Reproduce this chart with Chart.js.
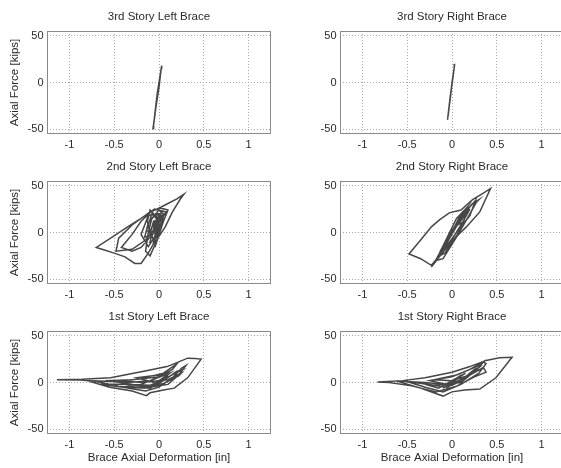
<!DOCTYPE html>
<html><head><meta charset="utf-8">
<script src="https://cdn.jsdelivr.net/npm/chart.js@4"></script>
<style>
html,body{margin:0;padding:0;width:561px;height:468px;overflow:hidden;background:#fff;}
body{position:relative;}
canvas{position:absolute;}
</style></head><body>
<script>
// ---------- DATA ----------
const xTickValues = [-1, -0.5, 0, 0.5, 1];
const yTickValues = [-50, 0, 50];
const panelTitles = ["3rd Story Left Brace","3rd Story Right Brace","2nd Story Left Brace","2nd Story Right Brace","1st Story Left Brace","1st Story Right Brace"];
const yAxisTitle = "Axial Force [kips]";
const xAxisTitle = "Brace Axial Deformation [in]";

const story3Left = [[-0.068,-50],[-0.04,-30],[0.0,-5],[0.025,15],[0.03,18],[0.02,12],[-0.02,-15],[-0.05,-38],[-0.066,-49],[-0.06,-45],[-0.02,-12],[0.028,17]];
const story3Right = [[-0.05,-40],[-0.02,-15],[0.01,5],[0.03,20],[0.025,16],[0.0,-2],[-0.03,-25],[-0.048,-38],[-0.04,-33],[0.0,0],[0.028,18]];
const story2Left = [[0,0],[0.04,10],[-0.03,-6],[0.06,16],[-0.06,-10],[0.0,18],[-0.1,2],[-0.04,-14],[0.05,12],[0.1,24],[0.02,26],[-0.1,22],[-0.3,8],[-0.45,-6],[-0.48,-20],[-0.3,-18],[-0.15,-8],[0.0,10],[0.08,22],[-0.05,25],[-0.2,15],[-0.35,6],[-0.54,-6],[-0.70,-16],[-0.6,-19],[-0.5,-22],[-0.38,-26],[-0.27,-33],[-0.2,-33],[-0.12,-22],[-0.06,-12],[0.0,-4],[0.07,6],[0.15,22],[0.24,36],[0.28,41],[0.2,36],[0.1,31],[0.02,27],[-0.09,22],[-0.2,12],[-0.3,-2],[-0.42,-16],[-0.3,-20],[-0.2,-16],[-0.1,-5],[-0.02,10],[0.05,20],[0,24],[-0.08,15],[-0.12,0],[-0.15,-20],[-0.1,-25],[-0.04,-12],[0.02,5],[-0.05,18],[-0.12,10],[-0.16,-5],[-0.08,-2],[0,15],[0.03,22],[-0.05,8],[-0.1,-10],[-0.05,-8],[0.02,18],[-0.08,20],[-0.14,2],[-0.06,0],[-0.02,16],[-0.1,24],[-0.13,12],[-0.09,-6],[-0.04,4],[0.0,20],[-0.12,18],[-0.2,-2],[-0.12,-15],[-0.03,-2],[0.04,14],[-0.06,12],[-0.1,-1],[0.0,0]];
const story2Right = [[0,0],[0.05,10],[-0.04,-8],[0.08,15],[-0.08,-15],[0.1,20],[-0.1,-20],[0.12,22],[-0.12,-22],[0.02,5],[0.15,25],[0.0,0],[-0.15,-25],[-0.05,-10],[0.18,28],[0.05,15],[-0.18,-30],[-0.1,-28],[0.05,-5],[0.2,20],[0.27,32],[0.3,35],[0.22,30],[0.1,14],[-0.05,-6],[-0.2,-33],[-0.23,-37],[-0.15,-27],[0.01,-8],[0.16,6],[0.31,22],[0.43,47],[0.35,42],[0.23,35],[0.1,24],[-0.03,21],[-0.14,13.5],[-0.23,6],[-0.35,-8],[-0.48,-23],[-0.35,-28],[-0.23,-35],[-0.1,-20],[0.05,0],[0.2,18],[0.26,34],[0.15,22],[0,2],[-0.12,-18],[-0.05,-15],[0.1,8],[0.2,25],[0.08,10],[-0.05,-5],[-0.16,-26],[-0.08,-22],[0.06,-2],[0.14,12],[0.06,8],[-0.08,-12],[0,0]];
const story1Left = [[0,0],[0.05,5],[-0.05,-3],[0.1,8],[-0.1,-5],[0.12,10],[-0.2,-2],[-0.35,-4],[-0.1,-6],[0.05,2],[0.2,12],[0.25,13],[0.1,6],[-0.1,-3],[-0.4,-2],[-0.65,-2],[-0.4,-5],[-0.15,-9],[0.0,-5],[0.15,5],[0.25,15],[0.3,18],[0.22,8],[0.1,-2],[-0.1,-5],[-0.5,1],[-0.8,2],[-0.55,-5],[-0.3,-9],[-0.14,-14],[-0.1,-11],[0.05,-8],[0.17,-6],[0.32,5],[0.47,25],[0.4,25.5],[0.32,26],[0.22,22],[0.09,17],[-0.17,12],[-0.54,5],[-0.86,3.5],[-1.14,3],[-0.9,2.8],[-0.7,1],[-0.45,-4],[-0.2,-6],[0.05,-1],[0.22,7],[0.25,10],[0.1,3],[-0.2,0],[-0.4,2],[-0.2,4],[0.05,10],[0.2,20],[0.15,14],[0,6],[-0.3,3],[-0.6,2],[-0.35,0],[-0.1,2],[0.12,12],[0.0,8],[-0.25,5],[-0.05,0]];
const story1Right = [[0,0],[0.05,4],[-0.05,-4],[0.1,8],[-0.1,-6],[0.15,10],[-0.15,-6],[-0.3,-2],[-0.05,-5],[0.15,6],[0.25,14],[0.3,16],[0.15,4],[0,-3],[-0.3,0],[-0.5,1],[-0.3,-5],[-0.1,-10],[0.1,-2],[0.3,10],[0.38,20],[0.35,22],[0.28,14],[0.1,0],[-0.2,-3],[-0.5,1],[-0.6,1],[-0.35,-6],[-0.1,-14.5],[0,-10],[0.14,-8],[0.31,-7],[0.49,5],[0.67,27],[0.53,26.5],[0.38,23.6],[0.2,17],[0,11],[-0.3,5],[-0.55,2],[-0.83,0.5],[-0.7,0],[-0.45,-3.6],[-0.18,-10],[0.05,-4],[0.25,6],[0.38,11],[0.35,16],[0.2,8],[0,2],[-0.2,3],[0.05,8],[0.3,18],[0.38,24],[0.2,14],[0,6],[-0.25,2],[-0.05,-2],[0.15,4],[0,0]];

const panelData = [story3Left, story3Right, story2Left, story2Right, story1Left, story1Right];

// ---------- LAYOUT / STYLE ----------
const FONT = "'Liberation Sans', Arial, Helvetica, sans-serif";
const YW = 40, PW = 224, PH = 103, TITLE_H = 24;
const colLeft = [7, 300];
const rowTop = [7, 157, 307];

const boxPlugin = {
  id: 'box',
  afterDatasetsDraw(chart) {
    const a = chart.chartArea, ctx = chart.ctx;
    ctx.save();
    ctx.strokeStyle = '#8a8a8a';
    ctx.lineWidth = 1;
    ctx.setLineDash([]);
    ctx.strokeRect(Math.round(a.left) + 0.5, Math.round(a.top) + 0.5, Math.round(a.right - a.left) - 1, Math.round(a.bottom - a.top) - 1);
    ctx.restore();
  }
};

panelData.forEach((pts, i) => {
  const col = i % 2, row = Math.floor(i / 2);
  const isBottom = row === 2, isLeft = col === 0;
  const xh = isBottom ? 33 : 22;
  const c = document.createElement('canvas');
  c.width = YW * 2 + PW;
  c.height = TITLE_H + PH + xh;
  c.style.left = colLeft[col] + 'px';
  c.style.top = rowTop[row] + 'px';
  document.body.appendChild(c);
  new Chart(c, {
    type: 'scatter',
    data: { datasets: [{
      data: pts.map(p => ({x: p[0], y: p[1]})),
      showLine: true, pointRadius: 0, borderColor: '#474747', borderWidth: 1.5, tension: 0, fill: false
    }]},
    options: {
      responsive: false, animation: false, devicePixelRatio: 1,
      layout: { padding: 0 },
      plugins: {
        legend: { display: false }, tooltip: { enabled: false },
        title: { display: true, text: panelTitles[i], color: '#2a2a2a', padding: { top: 3, bottom: 7.2 },
          font: { family: FONT, size: 11.5, weight: 'normal', lineHeight: 1.2 } }
      },
      scales: {
        x: {
          type: 'linear', min: -1.25, max: 1.25,
          afterBuildTicks: s => { s.ticks = xTickValues.map(v => ({value: v})); },
          afterFit: s => { s.height = xh; },
          grid: { color: '#a8a8a8', lineWidth: 1, drawTicks: false },
          border: { display: false, dash: [1, 2] },
          ticks: { color: '#2a2a2a', padding: 4, maxRotation: 0, font: { family: FONT, size: 11 },
            callback: v => String(v) },
          title: { display: isBottom, text: xAxisTitle, color: '#2a2a2a', padding: { top: 0, bottom: 2.1 },
            font: { family: FONT, size: 11.5, lineHeight: 1.2 } }
        },
        y: {
          type: 'linear', min: -55, max: 55,
          afterBuildTicks: s => { s.ticks = yTickValues.map(v => ({value: v})); },
          afterFit: s => { s.width = YW; },
          grid: { color: '#a8a8a8', lineWidth: 1, drawTicks: false },
          border: { display: false, dash: [1, 2] },
          ticks: { color: '#2a2a2a', padding: 3.5, font: { family: FONT, size: 11 },
            callback: v => String(v) },
          title: { display: isLeft, text: yAxisTitle, color: '#2a2a2a', padding: { top: 1.1, bottom: 0 },
            font: { family: FONT, size: 11.5, lineHeight: 1.2 } }
        },
        yPad: {
          type: 'linear', position: 'right', min: -55, max: 55,
          afterFit: s => { s.width = YW; },
          grid: { display: false, drawTicks: false },
          border: { display: false },
          ticks: { display: false }
        }
      }
    },
    plugins: [boxPlugin]
  });
});
</script>
</body></html>
